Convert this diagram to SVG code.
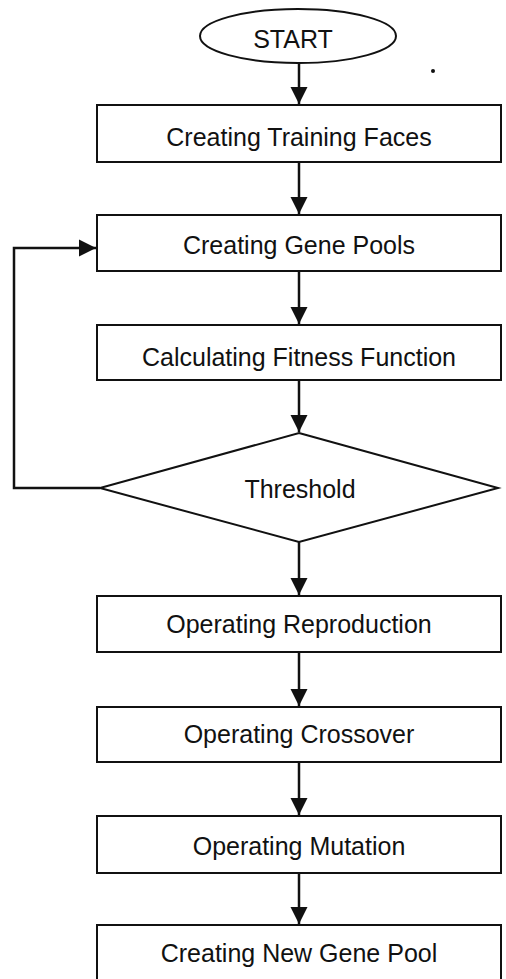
<svg xmlns="http://www.w3.org/2000/svg" width="506" height="979" viewBox="0 0 506 979">
<defs>
<style>
.box{fill:#fff;stroke:#111;stroke-width:2}
.lbl{font-family:"Liberation Sans",Arial,sans-serif;font-size:25px;fill:#111;text-anchor:middle}
.con{fill:none;stroke:#111;stroke-width:2.5}
</style>
<marker id="ah" viewBox="0 0 10 10" refX="10" refY="5" markerWidth="7" markerHeight="7" markerUnits="strokeWidth" orient="auto">
<path d="M0,0 L10,5 L0,10 Z" fill="#111"/>
</marker>
</defs>
<rect width="506" height="979" fill="#fff"/>
<g id="connectors">
<line class="con" x1="299" y1="63" x2="299" y2="104" marker-end="url(#ah)"/>
<line class="con" x1="299" y1="162" x2="299" y2="214" marker-end="url(#ah)"/>
<line class="con" x1="299" y1="271" x2="299" y2="324" marker-end="url(#ah)"/>
<line class="con" x1="299" y1="380" x2="299" y2="432" marker-end="url(#ah)"/>
<line class="con" x1="299" y1="542" x2="299" y2="595" marker-end="url(#ah)"/>
<line class="con" x1="299" y1="652" x2="299" y2="706" marker-end="url(#ah)"/>
<line class="con" x1="299" y1="762" x2="299" y2="815" marker-end="url(#ah)"/>
<line class="con" x1="299" y1="873" x2="299" y2="924" marker-end="url(#ah)"/>
<polyline class="con" points="100,488 14,488 14,248 96,248" marker-end="url(#ah)"/>
</g>
<g id="start">
<ellipse cx="298" cy="36" rx="98" ry="27" class="box"/>
<text x="293" y="48" class="lbl">START</text>
</g>
<g id="n1">
<rect x="97" y="105" width="404" height="57" class="box"/>
<text x="299" y="146" class="lbl">Creating Training Faces</text>
</g>
<g id="n2">
<rect x="97" y="215" width="404" height="56" class="box"/>
<text x="299" y="254" class="lbl">Creating Gene Pools</text>
</g>
<g id="n3">
<rect x="97" y="325" width="404" height="55" class="box"/>
<text x="299" y="366" class="lbl">Calculating Fitness Function</text>
</g>
<g id="threshold">
<polygon points="299,433 498,488 299,542 100,488" class="box"/>
<text x="300" y="498" class="lbl">Threshold</text>
</g>
<g id="n4">
<rect x="97" y="596" width="404" height="56" class="box"/>
<text x="299" y="633" class="lbl">Operating Reproduction</text>
</g>
<g id="n5">
<rect x="97" y="707" width="404" height="55" class="box"/>
<text x="299" y="743" class="lbl">Operating Crossover</text>
</g>
<g id="n6">
<rect x="97" y="816" width="404" height="57" class="box"/>
<text x="299" y="855" class="lbl">Operating Mutation</text>
</g>
<g id="n7">
<rect x="97" y="925" width="404" height="70" class="box"/>
<text x="299" y="962" class="lbl">Creating New Gene Pool</text>
</g>
<circle cx="433" cy="71" r="2" fill="#111"/>
</svg>
